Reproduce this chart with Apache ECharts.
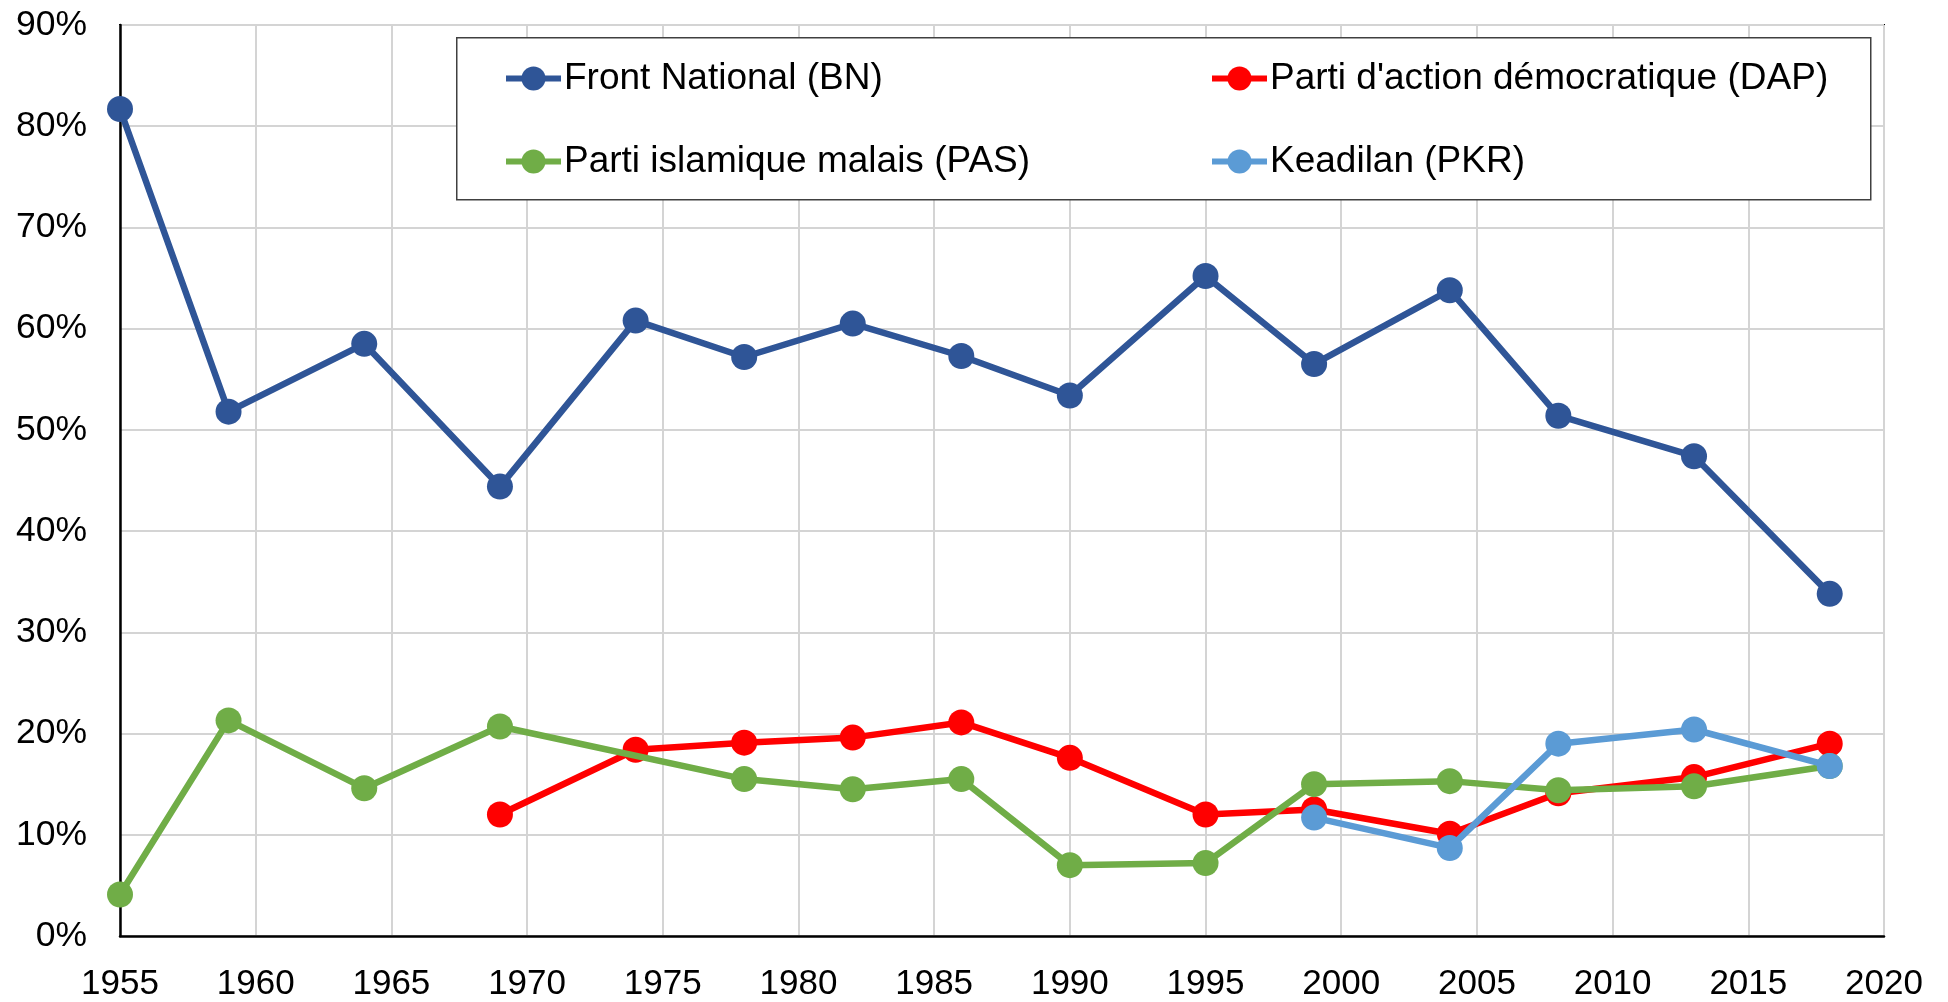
<!DOCTYPE html>
<html>
<head>
<meta charset="utf-8">
<script src="https://cdn.jsdelivr.net/npm/echarts@6/dist/echarts.min.js"></script>
<style>
  html, body { margin: 0; padding: 0; background: #fff; }
  #chart { width: 1948px; height: 1002px; }
</style>
</head>
<body>
<div id="chart"></div>
<script>
// Election years and vote shares (%) per party
const bnYears = [1955, 1959, 1964, 1969, 1974, 1978, 1982, 1986, 1990, 1995, 1999, 2004, 2008, 2013, 2018];
const bnValues = [81.7, 51.8, 58.5, 44.4, 60.8, 57.2, 60.5, 57.3, 53.4, 65.2, 56.5, 63.8, 51.4, 47.4, 33.8];

const dapYears = [1969, 1974, 1978, 1982, 1986, 1990, 1995, 1999, 2004, 2008, 2013, 2018];
const dapValues = [12.0, 18.4, 19.1, 19.6, 21.1, 17.6, 12.0, 12.5, 10.1, 14.1, 15.7, 19.0];

const pasYears = [1955, 1959, 1964, 1969, 1978, 1982, 1986, 1990, 1995, 1999, 2004, 2008, 2013, 2018];
const pasValues = [4.1, 21.3, 14.6, 20.7, 15.5, 14.5, 15.5, 7.0, 7.2, 15.0, 15.3, 14.4, 14.8, 16.8];

const pkrYears = [1999, 2004, 2008, 2013, 2018];
const pkrValues = [11.7, 8.7, 19.0, 20.4, 16.8];

const seriesNames = ['Front National (BN)', "Parti d'action démocratique (DAP)", 'Parti islamique malais (PAS)', 'Keadilan (PKR)'];
const seriesColors = ['#2F5597', '#FF0000', '#70AD47', '#5B9BD5'];

const zip = (xs, ys) => xs.map((x, i) => [x, ys[i]]);
const seriesData = [zip(bnYears, bnValues), zip(dapYears, dapValues), zip(pasYears, pasValues), zip(pkrYears, pkrValues)];

const chart = echarts.init(document.getElementById('chart'));

const font = 'Liberation Sans, Arial, sans-serif';

// one legend per entry so the two columns line up like the original
const legendPos = [
  { left: 503, top: 60 },
  { left: 1209, top: 60 },
  { left: 503, top: 143 },
  { left: 1209, top: 143 }
];

const option = {
  animation: false,
  backgroundColor: '#fff',
  textStyle: { fontFamily: font },
  graphic: [{
    type: 'rect',
    left: 456,
    top: 37,
    shape: { width: 1414, height: 162 },
    style: { fill: '#fff', stroke: '#404040', lineWidth: 1.5 },
    z: 5
  }],
  legend: seriesNames.map((name, i) => ({
    data: [name],
    left: legendPos[i].left,
    top: legendPos[i].top,
    padding: 0,
    itemWidth: 55,
    itemHeight: 30,
    itemGap: 6,
    z: 10,
    lineStyle: { width: 6 },
    itemStyle: { color: seriesColors[i] },
    textStyle: { fontSize: 37, color: '#000', fontFamily: font, padding: [0, 0, 0, -2] }
  })),
  grid: {
    left: 120, right: 64, top: 25, bottom: 64,
    show: true, borderColor: '#000', borderWidth: 2
  },
  xAxis: {
    type: 'value',
    min: 1955, max: 2020, interval: 5,
    axisLine: { show: true, lineStyle: { color: '#000', width: 2.5 } },
    axisTick: { show: false },
    splitLine: { show: true, lineStyle: { color: '#d4d4d4', width: 2 } },
    axisLabel: { fontSize: 35, color: '#000', margin: 31, fontFamily: font, formatter: (v) => String(v) }
  },
  yAxis: {
    type: 'value',
    min: 0, max: 90, interval: 10,
    axisLine: { show: true, lineStyle: { color: '#000', width: 2.5 } },
    axisTick: { show: false },
    splitLine: { show: true, lineStyle: { color: '#d4d4d4', width: 2 } },
    axisLabel: { fontSize: 35.5, color: '#000', margin: 33, formatter: '{value}%', fontFamily: font }
  },
  series: seriesNames.map((name, i) => ({
    name: name,
    type: 'line',
    data: seriesData[i],
    symbol: 'circle',
    symbolSize: 26,
    color: seriesColors[i],
    lineStyle: { width: 6.5, color: seriesColors[i] },
    itemStyle: { color: seriesColors[i] },
    z: 2 + i
  }))
};

chart.setOption(option);
</script>
</body>
</html>
